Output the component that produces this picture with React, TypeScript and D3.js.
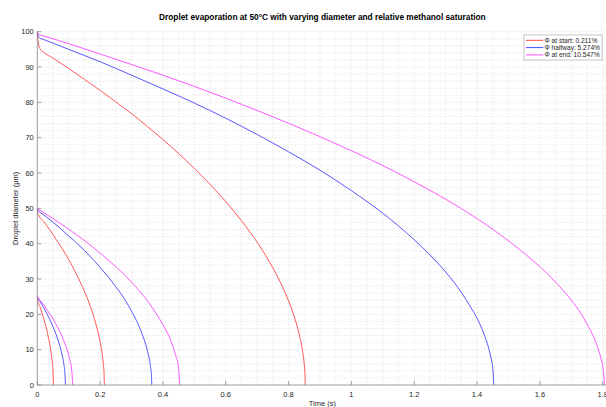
import React from "react";
import * as d3 from "d3";

// Time (s) and diameter (µm) samples for each droplet run
const red100: [number, number][] = [
  [0, 100], [0.002, 97.8], [0.005, 96.0], [0.01, 95.0], [0.02, 94.2], [0.05, 92.5], [0.1, 89.6],
  [0.15, 86.5], [0.2, 83.4], [0.25, 80.1], [0.3, 76.8], [0.35, 73.2], [0.4, 69.5], [0.45, 65.5],
  [0.5, 61.3], [0.55, 56.8], [0.6, 51.9], [0.65, 46.5], [0.7, 40.4], [0.73, 36.2], [0.76, 31.5],
  [0.78, 27.9], [0.8, 23.8], [0.82, 18.8], [0.835, 13.9], [0.845, 9.3], [0.85, 5.7],
  [0.8525, 2.5], [0.853, 0],
];
const blue100: [number, number][] = [
  [0, 100], [0.003, 98.9], [0.008, 98.2], [0.02, 97.8], [0.1, 95.0], [0.2, 91.5], [0.3, 87.7],
  [0.4, 83.8], [0.5, 79.8], [0.6, 75.5], [0.7, 70.9], [0.8, 66.0], [0.9, 60.8], [1.0, 55.0],
  [1.1, 48.6], [1.2, 41.1], [1.25, 36.8], [1.3, 32.0], [1.35, 26.2], [1.38, 22.0], [1.4, 18.9],
  [1.42, 14.9], [1.43, 12.5], [1.44, 9.4], [1.445, 7.4], [1.451, 3.9], [1.4535, 0],
];
const magenta100: [number, number][] = [
  [0, 100], [0.003, 99.4], [0.008, 99.1], [0.02, 98.8], [0.1, 96.6], [0.2, 93.7], [0.3, 90.7],
  [0.4, 87.7], [0.5, 84.5], [0.6, 81.2], [0.7, 77.7], [0.8, 74.1], [0.9, 70.3], [1.0, 66.3],
  [1.1, 62.1], [1.2, 57.5], [1.3, 52.6], [1.4, 47.1], [1.5, 40.8], [1.55, 37.3], [1.6, 33.5],
  [1.65, 29.1], [1.7, 24.0], [1.73, 20.3], [1.75, 17.3], [1.77, 13.8], [1.78, 11.7],
  [1.79, 9.0], [1.795, 7.4], [1.802, 4.1], [1.806, 0],
];
const red50: [number, number][] = [
  [0, 50], [0.001, 49.2], [0.003, 48.3], [0.02, 46.3], [0.04, 43.9], [0.06, 41.2], [0.08, 38.5],
  [0.1, 35.5], [0.12, 32.2], [0.14, 28.5], [0.16, 24.4], [0.17, 22.0], [0.18, 19.3], [0.19, 16.1],
  [0.2, 12.2], [0.205, 9.7], [0.21, 6.2], [0.2125, 3.3], [0.2135, 0],
];
const blue50: [number, number][] = [
  [0, 50], [0.003, 49.4], [0.02, 48.2], [0.05, 46.1], [0.1, 42.2], [0.15, 38.1], [0.2, 33.3],
  [0.25, 27.8], [0.28, 24.0], [0.3, 20.9], [0.32, 17.4], [0.33, 15.3], [0.34, 12.9], [0.35, 9.9],
  [0.36, 5.5], [0.3635, 2.6], [0.3645, 0],
];
const magenta50: [number, number][] = [
  [0, 50], [0.003, 49.8], [0.02, 48.8], [0.05, 47.1], [0.1, 44.1], [0.15, 40.9], [0.2, 37.3],
  [0.25, 33.5], [0.3, 29.1], [0.35, 23.9], [0.38, 20.0], [0.4, 17.1], [0.42, 13.6], [0.43, 11.3],
  [0.44, 8.6], [0.45, 4.4], [0.4535, 0],
];
const red25: [number, number][] = [
  [0, 25], [0.001, 24.4], [0.002, 23.8], [0.01, 21.8], [0.02, 18.9], [0.03, 15.6], [0.035, 13.6],
  [0.04, 11.4], [0.045, 8.4], [0.048, 6.1], [0.05, 3.7], [0.0512, 0],
];
const blue25: [number, number][] = [
  [0, 25], [0.001, 24.8], [0.002, 24.6], [0.01, 23.5], [0.02, 21.9], [0.03, 20.3], [0.04, 18.5],
  [0.05, 16.5], [0.06, 14.3], [0.07, 11.6], [0.075, 10.0], [0.08, 8.1], [0.085, 5.6],
  [0.088, 3.2], [0.0895, 0],
];
const magenta25: [number, number][] = [
  [0, 25], [0.002, 24.8], [0.01, 23.9], [0.02, 22.7], [0.03, 21.4], [0.04, 20.1], [0.05, 18.7],
  [0.06, 17.1], [0.07, 15.4], [0.08, 13.5], [0.09, 11.2], [0.095, 9.9], [0.1, 8.4], [0.105, 6.6],
  [0.11, 3.9], [0.1128, 0],
];

const seriesColors = ["#ff3a3a", "#3a3aff", "#ff3aff"];
const legendLabels = ["Φ at start: 0.211%", "Φ halfway: 5.274%", "Φ at end: 10.547%"];
const runs: { data: [number, number][]; group: number }[] = [
  { data: red100, group: 0 }, { data: blue100, group: 1 }, { data: magenta100, group: 2 },
  { data: red50, group: 0 }, { data: blue50, group: 1 }, { data: magenta50, group: 2 },
  { data: red25, group: 0 }, { data: blue25, group: 1 }, { data: magenta25, group: 2 },
];
const xTicks = [0, 0.2, 0.4, 0.6, 0.8, 1, 1.2, 1.4, 1.6, 1.8];
const yTicks = [0, 10, 20, 30, 40, 50, 60, 70, 80, 90, 100];

const W = 606;
const H = 407;
const X_MAX = 1.815;
const font = "'Liberation Sans', Arial, Helvetica, sans-serif";

export default function App() {
  const x = d3.scaleLinear().domain([0, 1.8]).range([37.3, 602.7]);
  const y = d3.scaleLinear().domain([0, 100]).range([385, 31.7]);
  const line = d3
    .line<[number, number]>()
    .x((d) => x(d[0]))
    .y((d) => y(d[1]))
    .curve(d3.curveMonotoneX);

  const minorX = d3.range(0, X_MAX + 1e-9, 0.05);
  const minorY = d3.range(0, 100.001, 2);
  const axisColor = "#8a8a8a";
  const textColor = "#262626";
  const xEnd = x(X_MAX);
  const cx = (x(0) + xEnd) / 2;

  return (
    <svg
      width={W}
      height={H}
      viewBox={`0 0 ${W} ${H}`}
      style={{ position: "absolute", left: 0, top: 0, display: "block", background: "#fff" }}
    >
      <rect width={W} height={H} fill="#fff" />
      {/* grid */}
      <g stroke="#d2d2d2" strokeWidth={0.6} strokeDasharray="1,1.6">
        {minorX.map((t) => (
          <line key={"gx" + t} x1={x(t)} x2={x(t)} y1={y(0)} y2={y(100)} />
        ))}
        {minorY.map((v) => (
          <line key={"gy" + v} x1={x(0)} x2={xEnd} y1={y(v)} y2={y(v)} />
        ))}
      </g>
      {/* curves */}
      <g fill="none" strokeWidth={0.85}>
        {runs.map((r, i) => (
          <path key={i} d={line(r.data) ?? ""} stroke={seriesColors[r.group]} />
        ))}
      </g>
      {/* axes */}
      <g stroke={axisColor} strokeWidth={0.8}>
        <line x1={x(0)} x2={x(0)} y1={y(0)} y2={y(100)} />
        <line x1={x(0)} x2={xEnd} y1={y(0)} y2={y(0)} />
        {xTicks.map((t) => (
          <line key={"tx" + t} x1={x(t)} x2={x(t)} y1={y(0)} y2={y(0) - 4} />
        ))}
        {yTicks.map((v) => (
          <line key={"ty" + v} x1={x(0)} x2={x(0) + 4} y1={y(v)} y2={y(v)} />
        ))}
      </g>
      <g fontFamily={font} fontSize={7.5} fill={textColor}>
        {xTicks.map((t) => (
          <text key={"lx" + t} x={x(t)} y={396.5} textAnchor="middle">
            {String(t)}
          </text>
        ))}
        {yTicks.map((v) => (
          <text key={"ly" + v} x={x(0) - 3.5} y={y(v) + 2.7} textAnchor="end">
            {String(v)}
          </text>
        ))}
        <text x={cx} y={405.5} textAnchor="middle">
          Time (s)
        </text>
        <text
          transform={`translate(18,${(y(0) + y(100)) / 2}) rotate(-90)`}
          textAnchor="middle"
        >
          Droplet diameter (μm)
        </text>
      </g>
      <text
        x={cx}
        y={19.5}
        textAnchor="middle"
        fontFamily={font}
        fontSize={8.3}
        fontWeight="bold"
        fill="#000"
      >
        Droplet evaporation at 50°C with varying diameter and relative methanol saturation
      </text>
      {/* legend */}
      <g fontFamily={font} fontSize={6.6} fill={textColor}>
        <rect x={524} y={35} width={78} height={25} fill="#fff" stroke="#a0a0a0" strokeWidth={0.6} />
        {legendLabels.map((lab, i) => {
          const ly = 40.3 + i * 7.3;
          return (
            <g key={lab}>
              <line x1={526} x2={543.3} y1={ly} y2={ly} stroke={seriesColors[i]} strokeWidth={0.9} />
              <text x={544.5} y={ly + 2.3}>
                {lab}
              </text>
            </g>
          );
        })}
      </g>
    </svg>
  );
}
